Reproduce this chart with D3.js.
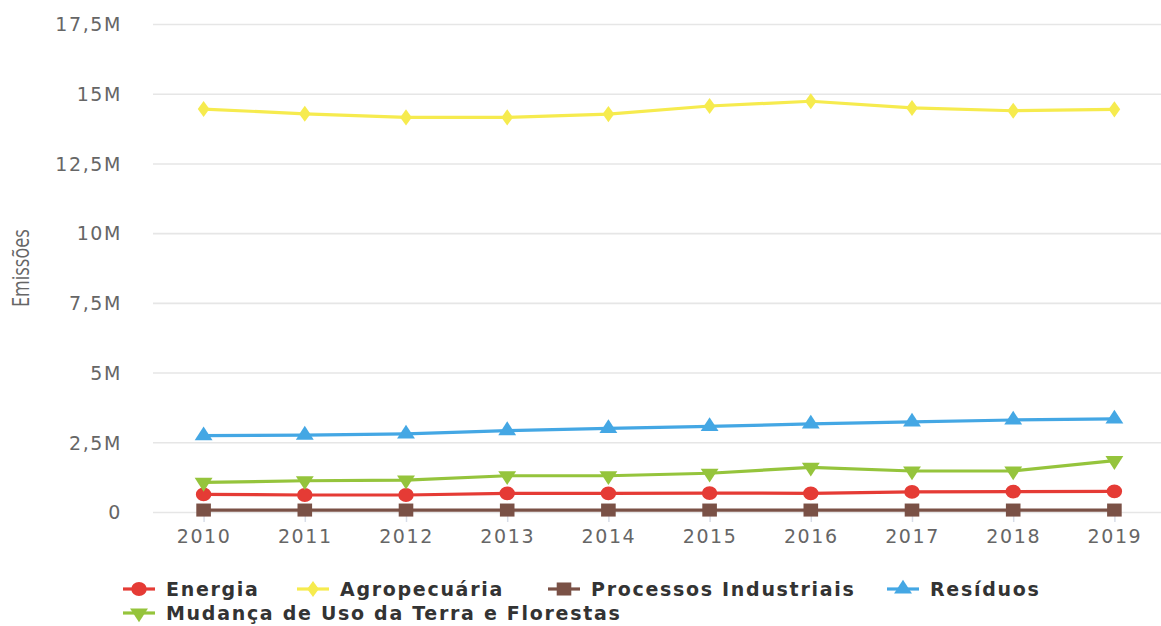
<!DOCTYPE html>
<html>
<head>
<meta charset="utf-8">
<script src="https://cdn.jsdelivr.net/npm/d3@7"></script>
<style>
  html, body { margin: 0; padding: 0; background: #fff; }
  svg { display: block; }
</style>
</head>
<body>
<svg id="chart" width="1161" height="626"></svg>
<script>
// ---- data ----
const years = ["2010","2011","2012","2013","2014","2015","2016","2017","2018","2019"];
const energia    = [630000, 610000, 610000, 670000, 670000, 680000, 670000, 720000, 730000, 740000];
const agro       = [14450000, 14280000, 14150000, 14150000, 14270000, 14560000, 14730000, 14490000, 14390000, 14440000];
const processos  = [70000, 70000, 70000, 70000, 70000, 70000, 70000, 70000, 70000, 70000];
const residuos   = [2740000, 2760000, 2800000, 2920000, 3000000, 3070000, 3160000, 3230000, 3300000, 3340000];
const mudanca    = [1060000, 1120000, 1140000, 1300000, 1300000, 1390000, 1600000, 1470000, 1470000, 1840000];
const yTickValues = [0, 2500000, 5000000, 7500000, 10000000, 12500000, 15000000, 17500000];
const yTickLabels = ["0", "2,5M", "5M", "7,5M", "10M", "12,5M", "15M", "17,5M"];
const seriesNames = ["Energia", "Agropecuária", "Processos Industriais", "Resíduos", "Mudança de Uso da Terra e Florestas"];
const yTitle = "Emissões";

const series = [
  { name: seriesNames[0], values: energia,   color: "#e53b35", symbol: "circle" },
  { name: seriesNames[1], values: agro,      color: "#f6eb4e", symbol: "diamond" },
  { name: seriesNames[2], values: processos, color: "#7a5146", symbol: "square" },
  { name: seriesNames[3], values: residuos,  color: "#44a7e4", symbol: "triangle" },
  { name: seriesNames[4], values: mudanca,   color: "#95c43c", symbol: "triangle-down" }
];

// ---- layout ----
const W = 1161, H = 626;
const plot = { left: 153, right: 1165, top: 24, bottom: 512 };
const svg = d3.select("#chart");
const FONT = "'DejaVu Sans', sans-serif";

const x = d3.scalePoint().domain(years).range([plot.left, plot.right]).padding(0.5);
const y = d3.scaleLinear().domain([0, 17500000]).range([plot.bottom, plot.top]);

// gridlines + y labels
const yAxis = d3.axisLeft(y)
  .tickValues(yTickValues)
  .tickFormat((d, i) => yTickLabels[i])
  .tickSize(-(W - plot.left))
  .tickPadding(31);
const gy = svg.append("g").attr("transform", `translate(${plot.left},0)`).call(yAxis);
gy.select(".domain").remove();
gy.selectAll(".tick line").attr("stroke", "#e6e6e6").attr("stroke-width", 1.6);
gy.selectAll(".tick text")
  .attr("fill", "#666")
  .style("font-family", FONT)
  .style("font-size", "19px")
  .style("letter-spacing", "1.6px")
  .attr("dy", "0.36em");

// x axis
const xAxis = d3.axisBottom(x).tickSize(10).tickPadding(8);
const gx = svg.append("g").attr("transform", `translate(0,${plot.bottom})`).call(xAxis);
gx.select(".domain").remove();
gx.selectAll(".tick line").attr("stroke", "#d8dde8").attr("stroke-width", 1.5);
gx.selectAll(".tick text")
  .attr("fill", "#666")
  .style("font-family", FONT)
  .style("font-size", "19px")
  .style("letter-spacing", "1.6px");

// y title
svg.append("text")
  .attr("transform", `translate(29,268) scale(1.35,1) rotate(-90)`)
  .attr("text-anchor", "middle")
  .attr("fill", "#666")
  .style("font-family", "'Open Sans', sans-serif")
  .style("font-size", "18px")
  .text(yTitle);

// symbols
const symMap = {
  "circle": d3.symbolCircle,
  "diamond": d3.symbolDiamond,
  "square": d3.symbolSquare,
  "triangle": d3.symbolTriangle,
  "triangle-down": d3.symbolTriangle
};
const symSize = { "circle": 150, "diamond": 75, "square": 170, "triangle": 110, "triangle-down": 110 };
function symPath(s) { return d3.symbol().type(symMap[s]).size(symSize[s])(); }
function symTransform(s, cx, cy) {
  const rot = s === "triangle-down" ? " rotate(180)" : "";
  const sc = s === "diamond" ? " scale(1.25,1)" : " scale(1.12,1)";
  return `translate(${cx},${cy})${sc}${rot}`;
}

const line = d3.line().x((d, i) => x(years[i])).y(d => y(d));

series.forEach(s => {
  const g = svg.append("g");
  g.append("path")
    .attr("d", line(s.values))
    .attr("fill", "none")
    .attr("stroke", s.color)
    .attr("stroke-width", 3.2)
    .attr("stroke-linejoin", "round");
  g.selectAll("path.m").data(s.values).enter().append("path")
    .attr("class", "m")
    .attr("d", symPath(s.symbol))
    .attr("transform", (d, i) => symTransform(s.symbol, x(years[i]), y(d)))
    .attr("fill", s.color);
});

// legend
const legendPos = [
  { x: 123, y: 589 },
  { x: 297, y: 589 },
  { x: 548, y: 589 },
  { x: 887, y: 589 },
  { x: 123, y: 613 }
];
series.forEach((s, i) => {
  const p = legendPos[i];
  const g = svg.append("g").attr("transform", `translate(${p.x},${p.y})`);
  g.append("line").attr("x1", 0).attr("x2", 32).attr("y1", 0).attr("y2", 0)
    .attr("stroke", s.color).attr("stroke-width", 3.2);
  g.append("path").attr("d", symPath(s.symbol))
    .attr("transform", symTransform(s.symbol, 16, 0))
    .attr("fill", s.color);
  g.append("text")
    .attr("x", 43).attr("y", 0).attr("dy", "0.36em")
    .attr("fill", "#333")
    .style("font-family", FONT)
    .style("font-size", "19px")
    .style("font-weight", "bold")
    .style("letter-spacing", "1.7px")
    .text(s.name);
});
</script>
</body>
</html>
